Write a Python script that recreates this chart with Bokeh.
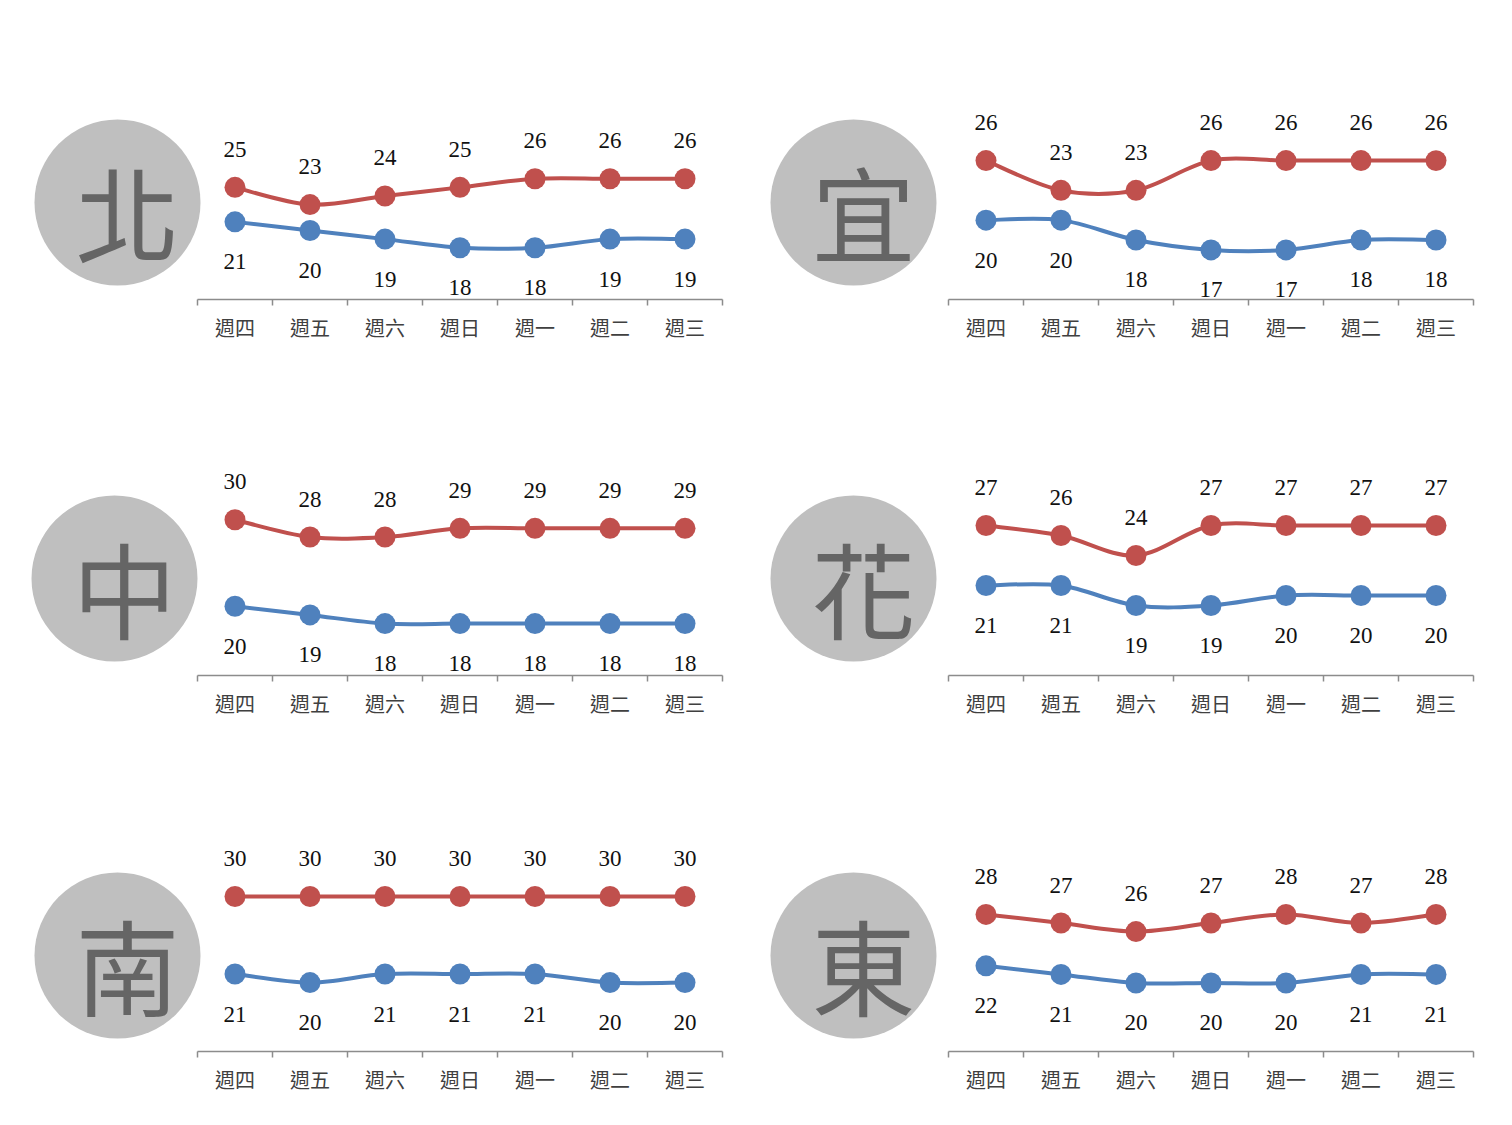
from bokeh.plotting import figure
from bokeh.models import Range1d, LinearAxis, FixedTicker, ColumnDataSource
from bokeh.layouts import row, column
from bokeh.core.properties import value
from bokeh.embed import file_html
from bokeh.resources import INLINE

# ---------------- data ----------------
days = ["週四", "週五", "週六", "週日", "週一", "週二", "週三"]

north_high = [25, 23, 24, 25, 26, 26, 26]
north_low = [21, 20, 19, 18, 18, 19, 19]
yilan_high = [26, 23, 23, 26, 26, 26, 26]
yilan_low = [20, 20, 18, 17, 17, 18, 18]
central_high = [30, 28, 28, 29, 29, 29, 29]
central_low = [20, 19, 18, 18, 18, 18, 18]
hualien_high = [27, 26, 24, 27, 27, 27, 27]
hualien_low = [21, 21, 19, 19, 20, 20, 20]
south_high = [30, 30, 30, 30, 30, 30, 30]
south_low = [21, 20, 21, 21, 21, 20, 20]
east_high = [28, 27, 26, 27, 28, 27, 28]
east_low = [22, 21, 20, 20, 20, 21, 21]

region_chars = ["北", "宜", "中", "花", "南", "東"]
highs = [north_high, yilan_high, central_high, hualien_high, south_high, east_high]
lows = [north_low, yilan_low, central_low, hualien_low, south_low, east_low]
y_min = 12
y_max = [41.1, 37.3, 41.0, 37.1, 41.15, 41.3]

# ---------------- styling / layout ----------------
RED = "#C0504D"
BLUE = "#4F81BD"
CIRCLE = "#BFBFBF"
CHAR = "#656565"
AXIS = "#8C8C8C"
NUM_FONT = "Liberation Serif"
CJK_FONT = "Noto Sans CJK TC"

CAT_W = 75            # pixels per category
FRAME_H = 251         # plot frame height
ROW_H = [384, 376, 350]
ROW_TOP = [48, 40, 40]
# column geometry: (fig width, frame left border, axis start within fig)
COLS = [(760, 20, 197), (730, 5, 188)]
# circle centre in figure pixels, per panel
circ_px = [(117, 202), (93, 202), (114, 194), (93, 194), (117, 195), (93, 195)]


def smooth_beziers(xs, ys):
    n = len(xs)
    d = dict(x0=[], y0=[], x1=[], y1=[], cx0=[], cy0=[], cx1=[], cy1=[])
    for i in range(n - 1):
        pm = max(i - 1, 0)
        pp = min(i + 2, n - 1)
        d["x0"].append(xs[i]); d["y0"].append(ys[i])
        d["x1"].append(xs[i + 1]); d["y1"].append(ys[i + 1])
        d["cx0"].append(xs[i] + (xs[i + 1] - xs[pm]) / 6.0)
        d["cy0"].append(ys[i] + (ys[i + 1] - ys[pm]) / 6.0)
        d["cx1"].append(xs[i + 1] - (xs[pp] - xs[i]) / 6.0)
        d["cy1"].append(ys[i + 1] - (ys[pp] - ys[i]) / 6.0)
    return d


def panel(idx, r, c):
    fig_w, border_l, axis_l = COLS[c]
    h = ROW_H[r]
    top = ROW_TOP[r]
    bottom = h - top - FRAME_H
    n = len(days)
    x_start = -(axis_l - border_l) / CAT_W
    frame_w = axis_l - border_l + n * CAT_W
    border_r = fig_w - border_l - frame_w

    p = figure(width=fig_w, height=h, x_range=Range1d(x_start, n),
               y_range=Range1d(y_min, y_max[idx]),
               output_backend="svg", toolbar_location=None,
               x_axis_location=None, y_axis_location=None,
               min_border_left=border_l, min_border_right=border_r,
               min_border_top=top, min_border_bottom=bottom)
    p.outline_line_color = None
    p.xgrid.visible = False
    p.ygrid.visible = False

    # region badge (circle + character)
    s = FRAME_H / (y_max[idx] - y_min)
    cxp, cyp = circ_px[idx]
    cx = (cxp - axis_l) / CAT_W
    cy = y_min + (top + FRAME_H - cyp) / s
    p.circle(x=[cx], y=[cy], radius=83, radius_units="screen",
             fill_color=CIRCLE, line_color=None)
    p.text(x=[cx], y=[cy], text=[region_chars[idx]], x_offset=10, y_offset=8,
           text_font=value(CJK_FONT), text_font_size="104px",
           text_color=CHAR, text_align="center", text_baseline="middle")

    xs = [i + 0.5 for i in range(n)]
    ticker = FixedTicker(ticks=xs, minor_ticks=list(range(n + 1)))
    ax = LinearAxis(ticker=ticker, bounds=(0, n))
    ax.major_label_overrides = {x: d for x, d in zip(xs, days)}
    ax.axis_line_color = AXIS
    ax.axis_line_width = 1.5
    ax.major_tick_line_color = None
    ax.major_tick_out = 0
    ax.major_tick_in = 0
    ax.minor_tick_line_color = AXIS
    ax.minor_tick_line_width = 1.5
    ax.minor_tick_out = 6
    ax.minor_tick_in = 0
    ax.major_label_standoff = 7
    ax.major_label_text_font = CJK_FONT
    ax.major_label_text_font_size = "20px"
    ax.major_label_text_color = "#404040"
    p.add_layout(ax, "below")

    for vals, color, off in ((highs[idx], RED, -38), (lows[idx], BLUE, 40)):
        src = ColumnDataSource(smooth_beziers(xs, vals))
        p.bezier(x0="x0", y0="y0", x1="x1", y1="y1", cx0="cx0", cy0="cy0",
                 cx1="cx1", cy1="cy1", source=src, line_color=color, line_width=4)
        p.scatter(x=xs, y=vals, size=21, fill_color=color, line_color=None)
        p.text(x=xs, y=vals, text=[str(v) for v in vals], y_offset=off,
               text_font=value(NUM_FONT), text_font_size="23px",
               text_color="#111111", text_align="center", text_baseline="middle")
    return p


rows = []
for r in range(3):
    rows.append(row(panel(2 * r, r, 0), panel(2 * r + 1, r, 1)))

layout = column(*rows)
open("out.html", "w").write(file_html(layout, INLINE))
